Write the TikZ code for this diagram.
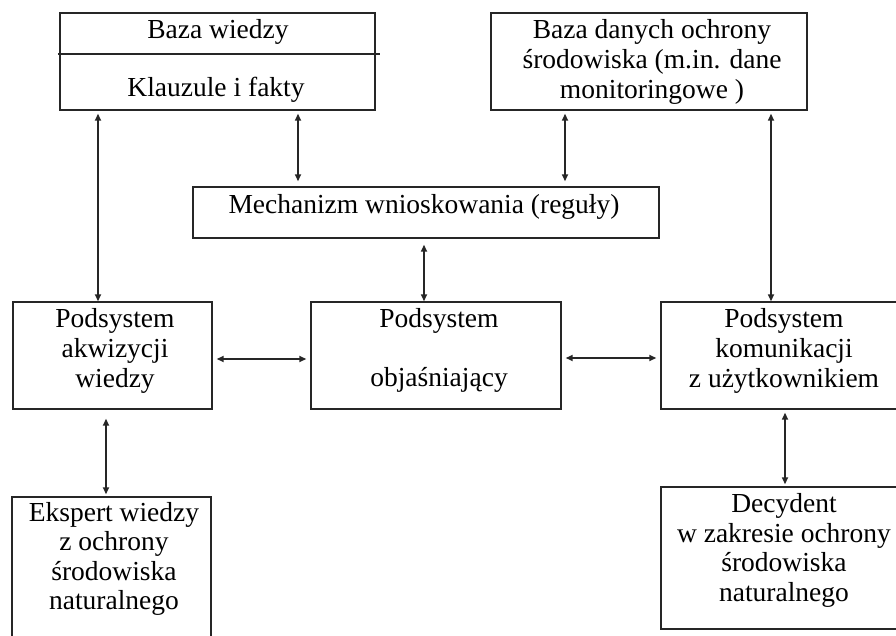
\documentclass[tikz,border=0pt]{standalone}
\usepackage{fontspec}
\setmainfont{Liberation Serif}
\usetikzlibrary{arrows.meta}
\begin{document}
\begin{tikzpicture}[x=1pt,y=1pt,
  box/.style={draw=black!85,line width=1.4pt,rectangle,inner sep=0pt},
  txt/.style={align=center,inner sep=0pt,font=\fontsize{27.5}{30}\selectfont},
  arr/.style={draw=black!85,line width=1.6pt,{Triangle[length=7pt,width=6pt]}-{Triangle[length=7pt,width=6pt]}}]
\useasboundingbox (0,0) rectangle (896,635);
\fill[white] (0,0) rectangle (896,635);
\clip (0,0) rectangle (896,635);
% boxes
\node[box,minimum width=315pt,minimum height=97pt] (kb) at (217.5,573.5) {};
\node[box,minimum width=316pt,minimum height=97pt] (db) at (649,573.5) {};
\node[box,minimum width=466pt,minimum height=51pt] (mech) at (426,422.5) {};
\node[box,minimum width=199pt,minimum height=107pt] (akw) at (112.5,279.5) {};
\node[box,minimum width=250pt,minimum height=107pt] (obj) at (436,279.5) {};
\node[box,minimum width=249pt,minimum height=107pt] (kom) at (785.5,279.5) {};
\node[box,minimum width=199pt,minimum height=153pt] (eks) at (111.5,61.5) {};
\node[box,minimum width=249pt,minimum height=142pt] (dec) at (785.5,77) {};
% divider in knowledge base
\draw[draw=black!85,line width=1.4pt] ([xshift=-1.5pt,yshift=7.5pt]kb.west) -- ([xshift=4pt,yshift=7.5pt]kb.east);
% texts
\node[txt] (kbt1) at (218,603) {Baza wiedzy};
\node[txt] (kbt2) at (216,545) {Klauzule i fakty};
\node[txt] (dbt) at (652,573) {Baza danych ochrony\\środowiska (m.in. dane\\monitoringowe )};
\node[txt] (mecht) at (424,428) {Mechanizm wnioskowania (reguły)};
\node[txt] (akwt) at (115,284.5) {Podsystem\\akwizycji\\wiedzy};
\node[txt] (objt) at (439,284.5) {Podsystem\\[29pt]objaśniający};
\node[txt] (komt) at (784,284.5) {Podsystem\\komunikacji\\z użytkownikiem};
\node[txt,font=\fontsize{27.5}{29.5}\selectfont] (ekst) at (114,76) {Ekspert wiedzy\\z ochrony\\środowiska\\naturalnego};
\node[txt,font=\fontsize{27.5}{29.5}\selectfont] (dect) at (784,84.5) {Decydent\\w zakresie ochrony\\środowiska\\naturalnego};
% connectors
\draw[arr,shorten <=3pt] ([xshift=-119.5pt]kb.south) -- ([xshift=-14.5pt]akw.north);
\draw[arr,shorten <=3pt,shorten >=5pt] ([xshift=80.5pt]kb.south) -- ([xshift=-128pt]mech.north);
\draw[arr,shorten <=3pt,shorten >=5pt] ([xshift=-84pt]db.south) -- ([xshift=139pt]mech.north);
\draw[arr,shorten <=3pt] ([xshift=122pt]db.south) -- ([xshift=-14.5pt]kom.north);
\draw[arr,shorten <=6pt] ([xshift=-2pt]mech.south) -- ([xshift=-12pt]obj.north);
\draw[arr,shorten <=4pt,shorten >=4pt] ([yshift=-3.5pt]akw.east) -- ([yshift=-3.5pt]obj.west);
\draw[arr,shorten <=4pt,shorten >=4pt] ([yshift=-2.5pt]obj.east) -- ([yshift=-2.5pt]kom.west);
\draw[arr,shorten <=9pt,shorten >=2pt] ([xshift=-6.5pt]akw.south) -- ([xshift=-5.5pt]eks.north);
\draw[arr,shorten <=3pt,shorten >=2pt] ([xshift=-0.5pt]kom.south) -- ([xshift=-0.5pt]dec.north);
\end{tikzpicture}
\end{document}
